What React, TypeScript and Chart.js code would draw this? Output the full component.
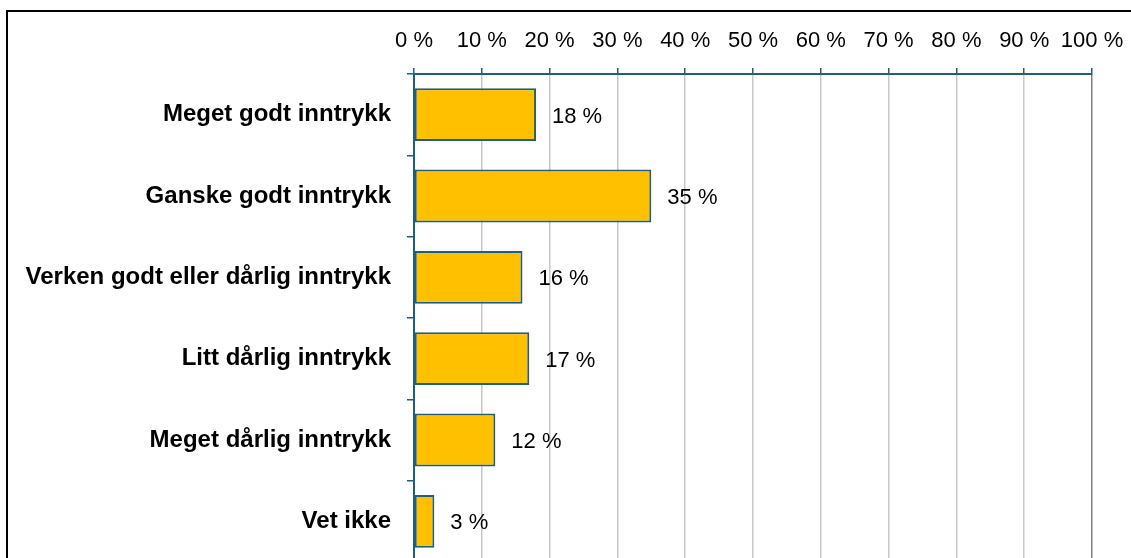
import React, { useEffect, useRef } from "react";
import { Chart, registerables } from "chart.js";

Chart.register(...registerables);

const categories = [
  "Meget godt inntrykk",
  "Ganske godt inntrykk",
  "Verken godt eller dårlig inntrykk",
  "Litt dårlig inntrykk",
  "Meget dårlig inntrykk",
  "Vet ikke",
];
const values = [18, 35, 16, 17, 12, 3];
const xTicks = [0, 10, 20, 30, 40, 50, 60, 70, 80, 90, 100];

const TEAL = "#1F5F7C";
const FONT = "'Liberation Sans', Arial, sans-serif";

const valueLabels = {
  id: "valueLabels",
  afterDatasetsDraw(chart: any) {
    const ctx = chart.ctx;
    const meta = chart.getDatasetMeta(0);
    ctx.save();
    ctx.font = `22px ${FONT}`;
    ctx.fillStyle = "#000";
    ctx.textAlign = "left";
    ctx.textBaseline = "middle";
    meta.data.forEach((bar: any, i: number) => {
      ctx.fillText(`${values[i]} %`, bar.x + 16, bar.y + 2);
    });
    ctx.restore();
  },
};

export default function App() {
  const ref = useRef<HTMLCanvasElement | null>(null);
  useEffect(() => {
    if (!ref.current) return;
    const chart = new Chart(ref.current, {
      type: "bar",
      data: {
        labels: categories,
        datasets: [
          {
            data: values,
            backgroundColor: "#FFC000",
            borderColor: TEAL,
            borderWidth: 2,
            borderSkipped: false,
            barPercentage: 0.65,
            categoryPercentage: 1,
          },
        ],
      },
      options: {
        indexAxis: "y",
        responsive: false,
        animation: false,
        layout: { padding: { left: 0, right: 39, top: 0, bottom: 8 } },
        plugins: { legend: { display: false }, tooltip: { enabled: false } },
        scales: {
          x: {
            position: "top",
            min: 0,
            max: 100,
            afterBuildTicks: (scale: any) => {
              scale.ticks = xTicks.map((v) => ({ value: v }));
            },
            afterFit: (scale: any) => {
              scale.height = 74;
              scale.paddingLeft = 0;
              scale.paddingRight = 0;
            },
            ticks: {
              callback: (v: any) => `${v} %`,
              font: { family: FONT, size: 22 },
              color: "#000",
              padding: 14,
              maxRotation: 0,
              autoSkip: false,
            },
            grid: {
              color: (c: any) => (c.tick && c.tick.value === 100 ? "#7F7F7F" : "#C8C8C8"),
              lineWidth: 1.5,
              tickColor: TEAL,
              tickLength: 6,
              drawTicks: true,
            },
            border: { color: TEAL, width: 2 },
          },
          y: {
            afterFit: (scale: any) => {
              scale.width = 414;
              scale.paddingTop = 0;
              scale.paddingBottom = 0;
            },
            ticks: {
              font: { family: FONT, size: 24, weight: "bold" },
              color: "#000",
              padding: 16,
            },
            grid: {
              drawOnChartArea: false,
              tickColor: TEAL,
              tickLength: 7,
              lineWidth: 1.5,
            },
            border: { color: TEAL, width: 2 },
          },
        },
      },
      plugins: [valueLabels],
    });
    return () => chart.destroy();
  }, []);

  return (
    <div
      style={{
        position: "fixed",
        left: 0,
        top: 0,
        width: 1131,
        height: 558,
        overflow: "hidden",
        background: "#fff",
      }}
    >
      <canvas ref={ref} width={1131} height={570} style={{ display: "block" }} />
      <div
        style={{
          position: "absolute",
          left: 6,
          top: 10,
          width: 1200,
          height: 700,
          border: "2px solid #000",
          pointerEvents: "none",
        }}
      />
    </div>
  );
}
